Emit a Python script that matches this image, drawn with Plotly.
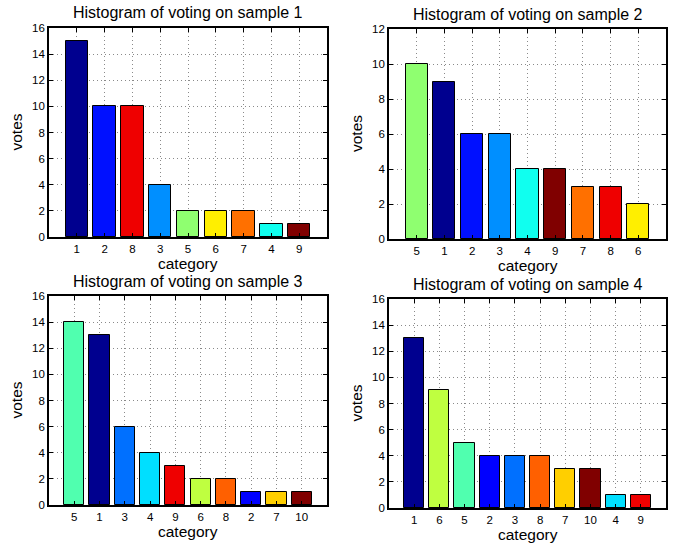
import plotly.graph_objects as go

W, H = 679, 545

# ---- data ----
titles = ["Histogram of voting on sample 1", "Histogram of voting on sample 2",
          "Histogram of voting on sample 3", "Histogram of voting on sample 4"]
cats1 = ["1", "2", "8", "3", "5", "6", "7", "4", "9"]
votes1 = [15, 10, 10, 4, 2, 2, 2, 1, 1]
cats2 = ["5", "1", "2", "3", "4", "9", "7", "8", "6"]
votes2 = [10, 9, 6, 6, 4, 4, 3, 3, 2]
cats3 = ["5", "1", "3", "4", "9", "6", "8", "2", "7", "10"]
votes3 = [14, 13, 6, 4, 3, 2, 2, 1, 1, 1]
cats4 = ["1", "6", "5", "2", "3", "8", "7", "10", "4", "9"]
votes4 = [13, 9, 5, 4, 4, 4, 3, 3, 1, 1]
ymax = [16, 12, 16, 16]
y_ticks16 = [0, 2, 4, 6, 8, 10, 12, 14, 16]
y_ticks12 = [0, 2, 4, 6, 8, 10, 12]

# ---- styles (jet colormap per category) ----
jet9 = {"1": "#00008F", "2": "#0010FF", "3": "#008FFF", "4": "#10FFEF", "5": "#8FFF70",
        "6": "#FFEF00", "7": "#FF7000", "8": "#EF0000", "9": "#800000"}
jet10 = {"1": "#00008F", "2": "#0000FF", "3": "#0070FF", "4": "#00DFFF", "5": "#50FFAF",
         "6": "#BFFF40", "7": "#FFCF00", "8": "#FF6000", "9": "#EF0000", "10": "#800000"}

panels = [
    (cats1, votes1, jet9, y_ticks16, (49, 327, 28, 237), 263),
    (cats2, votes2, jet9, y_ticks12, (389, 666, 29, 239), 265),
    (cats3, votes3, jet10, y_ticks16, (49, 327, 296, 505), 531),
    (cats4, votes4, jet10, y_ticks16, (389, 666, 299, 508), 534),
]

FONT = "Liberation Sans, Arial, Helvetica, sans-serif"
fig = go.Figure()
annotations = []

def px_x(v):
    return v / W

def px_y(v):
    return 1 - v / H

for i, (cats, votes, cmap, yt, (l, r, t, b), laby) in enumerate(panels):
    n = len(cats)
    xs = list(range(1, n + 1))
    sfx = "" if i == 0 else str(i + 1)
    fig.add_trace(go.Bar(
        x=xs, y=votes, width=0.8,
        marker=dict(color=[cmap[c] for c in cats], line=dict(color="#000000", width=1)),
        xaxis="x" + sfx, yaxis="y" + sfx, showlegend=False,
        hovertemplate="category %{customdata}<br>votes %{y}<extra></extra>",
        customdata=cats,
    ))
    common = dict(
        showline=True, linecolor="#000000", linewidth=1.6, mirror="ticks",
        ticks="inside", ticklen=4, tickcolor="#000000", tickwidth=1,
        showgrid=True, gridcolor="#8a8a8a", griddash="1px,3px", gridwidth=1,
        zeroline=False, tickfont=dict(family=FONT, size=11.5, color="#000000"),
        fixedrange=True, automargin=False,
    )
    fig.update_layout(**{
        "xaxis" + sfx: dict(common, domain=[px_x(l), px_x(r)], range=[0, n + 1],
                             tickmode="array", tickvals=xs, ticktext=cats,
                             anchor="y" + sfx),
        "yaxis" + sfx: dict(common, domain=[px_y(b), px_y(t)], range=[0, ymax[i]],
                             tickmode="array", tickvals=yt, anchor="x" + sfx),
    })
    cx = (l + r) / 2
    annotations.append(dict(text=titles[i], x=px_x(cx), y=px_y(t - 15), xref="paper", yref="paper",
                            xanchor="center", yanchor="middle", showarrow=False,
                            font=dict(family=FONT, size=16, color="#000000")))
    annotations.append(dict(text="category", x=px_x(cx), y=px_y(laby), xref="paper", yref="paper",
                            xanchor="center", yanchor="middle", showarrow=False,
                            font=dict(family=FONT, size=15.5, color="#000000")))
    annotations.append(dict(text="votes", x=px_x(l - 33), y=px_y((t + b) / 2), xref="paper", yref="paper",
                            xanchor="center", yanchor="middle", showarrow=False, textangle=-90,
                            font=dict(family=FONT, size=15.5, color="#000000")))

fig.update_layout(
    template="none",
    width=W, height=H, margin=dict(l=0, r=0, t=0, b=0, autoexpand=False),
    paper_bgcolor="#ffffff", plot_bgcolor="#ffffff",
    annotations=annotations, bargap=0,
)

fig.write_html("out.html", config={"displayModeBar": False},
               post_script="document.body.style.margin='0';document.body.style.overflow='hidden';")
